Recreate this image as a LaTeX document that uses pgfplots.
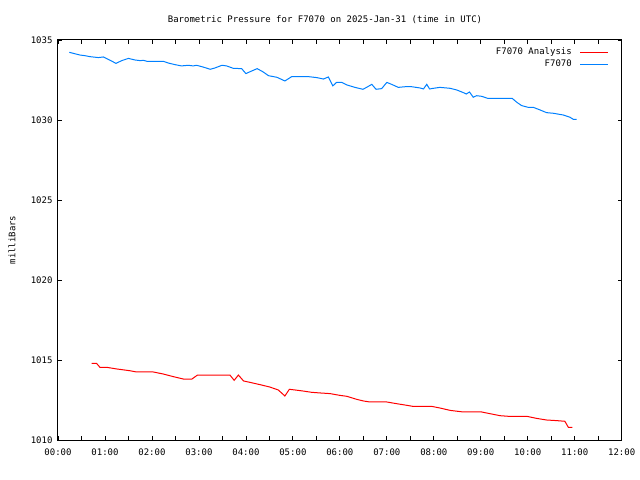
\documentclass[border=0pt]{standalone}
\usepackage{pgfplots}
\pgfplotsset{compat=1.18}
\usepackage{fontspec}
\setmainfont{DejaVu Sans Mono}
\definecolor{gred}{RGB}{255,0,0}
\definecolor{gblue}{RGB}{0,128,255}
\begin{document}
\begin{tikzpicture}[font=\fontsize{9bp}{11bp}\selectfont]
\useasboundingbox (0,0) rectangle (640bp,480bp);
\begin{axis}[
  at={(58bp,40bp)}, anchor=south west,
  scale only axis, width=563.7bp, height=400bp,
  xmin=0, xmax=12, ymin=1010, ymax=1035,
  xtick={0,...,12},
  xticklabels={00:00,01:00,02:00,03:00,04:00,05:00,06:00,07:00,08:00,09:00,10:00,11:00,12:00},
  minor x tick num=1,
  ytick={1010,1015,1020,1025,1030,1035},
  /pgf/number format/.cd, 1000 sep={}, assume math mode=true, /pgfplots/.cd,
  tick align=inside,
  major tick length=4bp, minor tick length=4bp,
  tick style={black, line width=0.8bp},
  axis line style={black, line width=1bp},
  xticklabel style={yshift=-5bp},
  yticklabel style={xshift=-2bp},
  legend plot pos=right,
  legend cell align=right,
  legend style={draw=none, fill=none, at={(0.9775,0.985)}, anchor=north east,
    inner sep=0pt, row sep=0.3bp, column sep=6bp,
    nodes={text height=6.5bp, text depth=1.5bp, inner sep=2bp}},
  legend image code/.code={\draw[#1, line width=1bp] (0bp,0bp) -- (28bp,0bp);},
]
\addplot[gred, line width=1bp] coordinates {
(0.717,1014.79) (0.82,1014.79) (0.894,1014.54) (1.04,1014.54) (1.25,1014.44)
(1.53,1014.33) (1.675,1014.25) (2.03,1014.25) (2.24,1014.125) (2.455,1013.96)
(2.67,1013.81) (2.85,1013.81) (2.97,1014.06) (3.66,1014.06) (3.75,1013.73)
(3.84,1014.06) (3.95,1013.69) (4.09,1013.60) (4.30,1013.46) (4.51,1013.31)
(4.69,1013.125) (4.83,1012.75) (4.925,1013.17) (5.05,1013.125) (5.22,1013.06)
(5.40,1012.98) (5.58,1012.94) (5.79,1012.90) (6.00,1012.79) (6.15,1012.73)
(6.36,1012.54) (6.50,1012.44) (6.64,1012.375) (7.00,1012.375) (7.21,1012.27)
(7.42,1012.17) (7.56,1012.10) (7.96,1012.10) (8.13,1012.00) (8.35,1011.85)
(8.63,1011.75) (9.02,1011.75) (9.23,1011.625) (9.41,1011.52) (9.59,1011.48)
(9.98,1011.48) (10.19,1011.35) (10.40,1011.25) (10.62,1011.21) (10.79,1011.17)
(10.865,1010.79) (10.95,1010.79)
};
\addlegendentry{F7070 Analysis}
\addplot[gblue, line width=1bp] coordinates {
(0.241,1034.23) (0.36,1034.14) (0.47,1034.06) (0.575,1034.02) (0.68,1033.96)
(0.86,1033.90) (0.965,1033.94) (1.07,1033.79) (1.235,1033.54) (1.356,1033.71)
(1.50,1033.85) (1.64,1033.75) (1.75,1033.71) (1.82,1033.73) (1.89,1033.67)
(2.24,1033.67) (2.35,1033.56) (2.49,1033.46) (2.63,1033.38) (2.77,1033.42)
(2.88,1033.38) (2.95,1033.42) (3.09,1033.31) (3.24,1033.17) (3.34,1033.25)
(3.49,1033.42) (3.59,1033.38) (3.73,1033.23) (3.91,1033.21) (4.00,1032.90)
(4.09,1033.02) (4.24,1033.21) (4.37,1033.00) (4.48,1032.77) (4.66,1032.67)
(4.83,1032.44) (4.975,1032.71) (5.33,1032.71) (5.51,1032.65) (5.65,1032.56)
(5.755,1032.69) (5.85,1032.13) (5.93,1032.35) (6.04,1032.35) (6.15,1032.19)
(6.32,1032.04) (6.49,1031.92) (6.57,1032.04) (6.68,1032.23) (6.77,1031.92)
(6.89,1031.96) (7.00,1032.35) (7.10,1032.23) (7.245,1032.04) (7.39,1032.08)
(7.53,1032.08) (7.71,1032.00) (7.78,1031.94) (7.85,1032.23) (7.91,1031.94)
(7.99,1031.98) (8.13,1032.04) (8.35,1031.98) (8.49,1031.875) (8.63,1031.71)
(8.69,1031.625) (8.76,1031.75) (8.84,1031.42) (8.91,1031.52) (9.02,1031.48)
(9.15,1031.35) (9.67,1031.35) (9.77,1031.10) (9.87,1030.90) (10.01,1030.79)
(10.12,1030.79) (10.26,1030.63) (10.40,1030.46) (10.545,1030.42) (10.76,1030.31)
(10.90,1030.17) (10.97,1030.04) (11.04,1030.04)
};
\addlegendentry{F7070}
\end{axis}
\node at (325bp,460bp) {Barometric Pressure for F7070 on 2025-Jan-31 (time in UTC)};
\node[rotate=90] at (12bp,240bp) {milliBars};
\end{tikzpicture}
\end{document}
